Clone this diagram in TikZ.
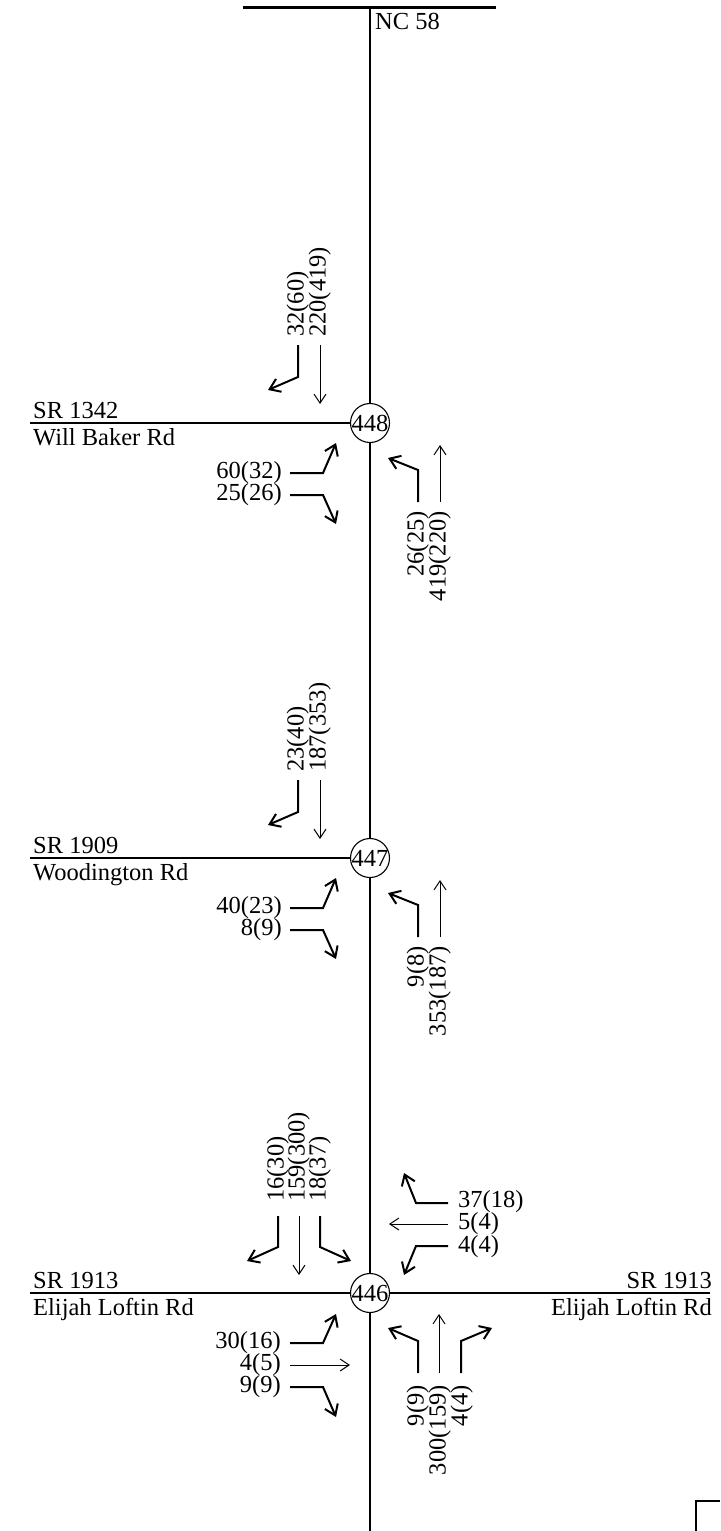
\documentclass[tikz,border=0pt]{standalone}
\usepackage{fontspec}
\setmainfont{Liberation Serif}
\usetikzlibrary{arrows.meta, positioning, calc}

\begin{document}
\begin{tikzpicture}[
    x=1pt, y=-1pt,
    font=\fontsize{24.5}{28}\selectfont,
    road/.style={line width=1.3pt},
    intsec/.style={circle, draw, line width=1.1pt, minimum size=39pt, inner sep=-3pt},
    thru/.style={line width=1pt, -{Straight Barb[length=9pt, width=12pt]}},
    turn/.style={line width=2pt, -{Straight Barb[length=10pt, width=14pt]}},
    vol/.style={inner sep=0pt, text height=14pt, text depth=3pt},
    vvol/.style={vol, rotate=90},
    rdname/.style={inner sep=0pt},
]
    \useasboundingbox (0,0) rectangle (720,1531);

    % NC 58 and the cross line on top
    \coordinate (tl) at (243,7);
    \coordinate (tr) at (496,7);
    \coordinate (top) at (370,7);
    \coordinate (bot) at (370,1531);
    \draw[line width=3pt] (tl) -- (tr);
    \node[rdname, anchor=base west] (nc) at (375,29) {NC 58};

    % Intersections
    \node[intsec] (i448) at (370,423) {448};
    \node[intsec] (i447) at (370,858) {447};
    \node[intsec] (i446) at (370,1293) {446};

    \draw[road] (top) -- (i448) -- (i447) -- (i446) -- (bot);

    % Side roads
    \coordinate (w448) at (30,423);
    \coordinate (w447) at (30,858);
    \coordinate (w446) at (30,1293);
    \coordinate (e446) at (710,1293);
    \draw[road] (w448) -- (i448.west);
    \draw[road] (w447) -- (i447.west);
    \draw[road] (w446) -- (i446.west);
    \draw[road] (i446.east) -- (e446);

    \node[rdname, anchor=base west] (sr448) at (33,418) {SR 1342};
    \node[rdname, anchor=base west] (nm448) at (33,445) {Will Baker Rd};
    \node[rdname, anchor=base west] (sr447) at (33,853) {SR 1909};
    \node[rdname, anchor=base west] (nm447) at (33,880) {Woodington Rd};
    \node[rdname, anchor=base west] (srw446) at (33,1288) {SR 1913};
    \node[rdname, anchor=base west] (nmw446) at (33,1315) {Elijah Loftin Rd};
    \node[rdname, anchor=base east] (sre446) at (712,1288) {SR 1913};
    \node[rdname, anchor=base east] (nme446) at (712,1315) {Elijah Loftin Rd};

    % T intersections 448 and 447
    \foreach \id/\y/\sbr/\sbt/\ebl/\ebr/\nbl/\nbt in {
        448/423/32(60)/220(419)/60(32)/25(26)/26(25)/419(220),
        447/858/23(40)/187(353)/40(23)/8(9)/9(8)/353(187)}
    {
        \begin{scope}[shift={(370,\y)}]
            % southbound
            \draw[turn] (-72,-78) -- (-72,-46) -- (-102,-33);
            \draw[thru] (-50,-78) -- (-50,-19);
            \node[vvol, anchor=west] (sbr\id) at (-72,-86) {\sbr};
            \node[vvol, anchor=west] (sbt\id) at (-50,-86) {\sbt};
            % eastbound
            \draw[turn] (-80,50) -- (-47,50) -- (-34,20);
            \draw[turn] (-80,72) -- (-47,72) -- (-34,101);
            \node[vol, anchor=east] (ebl\id) at (-88,50) {\ebl};
            \node[vol, anchor=east] (ebr\id) at (-88,72) {\ebr};
            % northbound
            \draw[turn] (48,79) -- (48,47) -- (18,35);
            \draw[thru] (70,79) -- (70,22);
            \node[vvol, anchor=east] (nbl\id) at (48,88) {\nbl};
            \node[vvol, anchor=east] (nbt\id) at (70,88) {\nbt};
        \end{scope}
    }

    % Four-leg intersection 446
    \begin{scope}[shift={(370,1293)}]
        % southbound
        \draw[turn] (-92,-77) -- (-92,-46) -- (-123,-32);
        \draw[thru] (-71,-77) -- (-71,-18);
        \draw[turn] (-50,-77) -- (-50,-46) -- (-19,-32);
        \node[vvol, anchor=west] (sbr446) at (-92,-91) {16(30)};
        \node[vvol, anchor=west] (sbt446) at (-71,-91) {159(300)};
        \node[vvol, anchor=west] (sbl446) at (-50,-91) {18(37)};
        % westbound
        \draw[turn] (78,-90) -- (46,-90) -- (34,-120);
        \draw[thru] (78,-69) -- (19,-69);
        \draw[turn] (78,-47) -- (46,-47) -- (34,-18);
        \node[vol, anchor=west] (wbr446) at (88,-91.5) {37(18)};
        \node[vol, anchor=west] (wbt446) at (88,-69) {5(4)};
        \node[vol, anchor=west] (wbl446) at (88,-46.5) {4(4)};
        % eastbound
        \draw[turn] (-80,50) -- (-47,50) -- (-34,21);
        \draw[thru] (-80,72) -- (-20,72);
        \draw[turn] (-80,94) -- (-47,94) -- (-34,124);
        \node[vol, anchor=east] (ebl446) at (-89,50) {30(16)};
        \node[vol, anchor=east] (ebt446) at (-89,72) {4(5)};
        \node[vol, anchor=east] (ebr446) at (-89,94) {9(9)};
        % northbound
        \draw[turn] (48,80) -- (48,48) -- (18,35);
        \draw[thru] (69,80) -- (69,21);
        \draw[turn] (91,80) -- (91,48) -- (122,35);
        \node[vvol, anchor=east] (nbl446) at (48,92) {9(9)};
        \node[vvol, anchor=east] (nbt446) at (70,92) {300(159)};
        \node[vvol, anchor=east] (nbr446) at (92,92) {4(4)};
    \end{scope}

    % corner of the box at bottom right
    \draw[line width=1.6pt] (696,1531) -- (696,1501) -- (720,1501);
\end{tikzpicture}
\end{document}
